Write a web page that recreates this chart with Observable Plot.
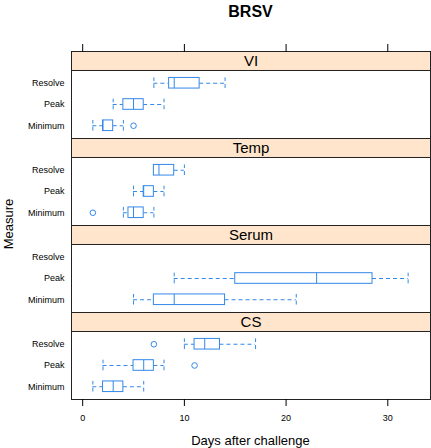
<!DOCTYPE html>
<html><head><meta charset="utf-8">
<script src="https://cdn.jsdelivr.net/npm/d3@7"></script>
<script src="https://cdn.jsdelivr.net/npm/@observablehq/plot@0.6"></script>
<style>
body{margin:0;background:#fff;font-family:"Liberation Sans",Arial,sans-serif;}
#wrap{position:relative;width:431px;height:448px;overflow:hidden;}
#title{height:24px;line-height:24px;padding-left:71px;width:359px;text-align:center;font-weight:bold;font-size:16px;}
#xlab{position:absolute;left:71px;width:359px;top:433px;text-align:center;font-size:13px;}
#ylab{position:absolute;left:8px;top:224px;transform:translate(-50%,-50%) rotate(-90deg);font-size:13px;white-space:nowrap;}
#chart svg{display:block;}
</style></head><body>
<div id="wrap">
  <div id="title">BRSV</div>
  <div id="chart"></div>
  <div id="ylab">Measure</div>
  <div id="xlab">Days after challenge</div>
</div>
<script>
// ---- data ----
const panels = ["VI", "Temp", "Serum", "CS"];
const measures = ["Minimum", "Peak", "Resolve"];
const xTicks = [0, 10, 20, 30];

const boxPanel   = ["VI", "VI", "VI", "Temp", "Temp", "Temp", "Serum", "Serum", "CS", "CS", "CS"];
const boxMeasure = ["Resolve", "Peak", "Minimum", "Resolve", "Peak", "Minimum", "Peak", "Minimum", "Resolve", "Peak", "Minimum"];
const whiskerLow  = [7,   3, 1, 7,   5, 4,   9,    5,  10,   2, 1];
const quart1      = [8.5, 4, 2, 7,   6, 4.5, 15,   7,  11,   5, 2];
const median      = [9,   5, 2, 7.5, 6, 5,   23,   9,  12,   6, 3];
const quart3      = [11.5,6, 3, 9,   7, 6,   28.5, 14, 13.5, 7, 4];
const whiskerHigh = [14,  8, 4, 10,  8, 7,   32,   21, 17,   8, 6];

const outPanel   = ["VI", "Temp", "CS", "CS"];
const outMeasure = ["Minimum", "Minimum", "Resolve", "Peak"];
const outValue   = [5, 1, 7, 11];

// ---- tables ----
const boxes = boxPanel.map((p, i) => ({
  panel: p, measure: boxMeasure[i],
  lo: whiskerLow[i], q1: quart1[i], med: median[i], q3: quart3[i], hi: whiskerHigh[i]
}));
const outliers = outPanel.map((p, i) => ({panel: p, measure: outMeasure[i], value: outValue[i]}));

// ---- layout ----
const xDomain = [-1.1, 34.2];
const stripLo = 3.6, stripHi = 4.494;
const half = 0.25;
const yOf = d => measures.indexOf(d.measure) + 1;
const blue = "#3388e8";
const dash = "4,3";

const chart = Plot.plot({
  width: 431, height: 424,
  marginTop: 27, marginBottom: 49, marginLeft: 71, marginRight: 1,
  style: {fontFamily: "'Liberation Sans', Arial, sans-serif", background: "white", color: "black"},
  x: {domain: xDomain, axis: null},
  y: {domain: [0.4, stripHi], axis: null},
  fy: {domain: panels, padding: 0, axis: null},
  marks: [
    Plot.rect(panels, {fy: d => d, x1: xDomain[0], x2: xDomain[1], y1: stripLo, y2: stripHi, fill: "#ffe5cc"}),
    Plot.ruleY(panels, {fy: d => d, y: stripLo, stroke: "#222"}),
    Plot.text(panels, {fy: d => d, text: d => d, x: (xDomain[0] + xDomain[1]) / 2, y: (stripLo + stripHi) / 2, fontSize: 15, fill: "black"}),
    // whiskers
    Plot.ruleY(boxes, {fy: "panel", y: yOf, x1: "lo", x2: "q1", stroke: blue, strokeDasharray: dash}),
    Plot.ruleY(boxes, {fy: "panel", y: yOf, x1: "q3", x2: "hi", stroke: blue, strokeDasharray: dash}),
    Plot.ruleX(boxes, {fy: "panel", x: "lo", y1: d => yOf(d) - half, y2: d => yOf(d) + half, stroke: blue, strokeDasharray: dash}),
    Plot.ruleX(boxes, {fy: "panel", x: "hi", y1: d => yOf(d) - half, y2: d => yOf(d) + half, stroke: blue, strokeDasharray: dash}),
    // boxes
    Plot.rect(boxes, {fy: "panel", x1: "q1", x2: "q3", y1: d => yOf(d) - half, y2: d => yOf(d) + half, stroke: blue, fill: "white"}),
    Plot.ruleX(boxes, {fy: "panel", x: "med", y1: d => yOf(d) - half, y2: d => yOf(d) + half, stroke: blue}),
    // outliers
    Plot.dot(outliers, {fy: "panel", x: "value", y: yOf, r: 2.8, stroke: blue, strokeWidth: 1, fill: "none"}),
    Plot.frame({stroke: "#222"}),
    Plot.axisY([1, 2, 3], {tickFormat: d => measures[d - 1], tickSize: 0, tickPadding: 7, fontSize: 9, label: null}),
    Plot.axisX(xTicks, {anchor: "top", tickSize: 8, tickFormat: () => "", label: null}),
    Plot.axisX(xTicks, {anchor: "bottom", tickSize: 7, tickPadding: 8, fontSize: 9, label: null})
  ]
});
document.getElementById("chart").appendChild(chart);
</script>
</body></html>
